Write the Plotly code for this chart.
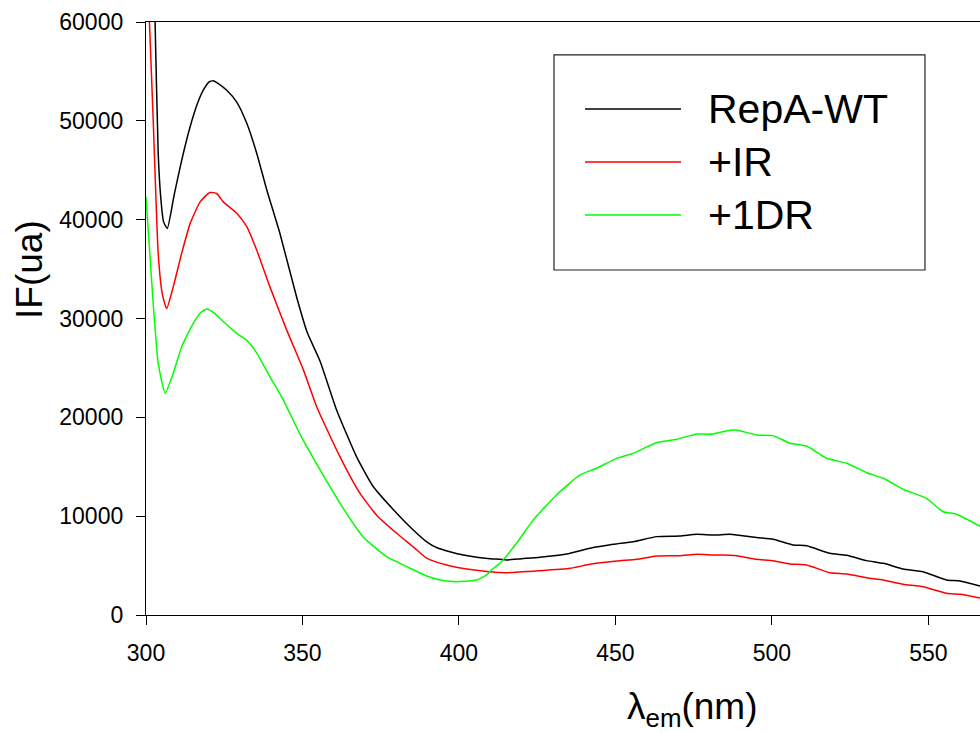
import plotly.graph_objects as go

# Emission spectra (fluorescence intensity, a.u.) versus emission wavelength (nm)
wt_nm = [300, 301, 302, 302.9, 303.9, 304.7, 305.6, 306.8, 309.0, 311.4, 314.1, 316.5, 318.3,
         320, 321.5, 323, 325.8, 329.0, 332.2, 335.4, 338.6, 342.8, 348.1, 351.5, 355.6,
         360.9, 367.3, 372.6, 380.1, 385.4, 389.7, 393, 397.1, 401, 405.7, 410, 413.1,
         415.2, 420, 425.9, 434.4, 441.9, 449.3, 455.7, 463.2, 470.6, 476.0, 481.3, 486.6,
         488.7, 495.1, 500.4, 506.8, 511.1, 518.5, 523.9, 530.3, 535.6, 541.9, 548.3,
         555.8, 560.1, 567]
wt_if = [98000, 85000, 72000, 60000, 46700, 42300, 39800, 39100, 42500, 46000, 49400, 51800, 53100,
         53900, 54050, 53800, 53100, 51900, 49750, 46700, 43000, 38600, 32200, 28600, 25700,
         20750, 16000, 13000, 10300, 8600, 7400, 6800, 6400, 6100, 5850, 5700, 5630,
         5570, 5700, 5840, 6170, 6750, 7150, 7420, 7930, 7990, 8160, 8100, 8160,
         8100, 7830, 7660, 7080, 7010, 6240, 6040, 5500, 5230, 4660, 4380,
         3540, 3440, 2900]

ir_nm = [300, 301.1, 302.3, 303.9, 305.2, 306.6, 308.7, 311.4, 314.1, 317.3, 320.4, 322.6,
         324.7, 329.0, 332.2, 335.4, 339.6, 345.0, 350.3, 354.5, 362.0, 368.4, 373.7, 380.1,
         385.4, 389.7, 396.1, 402.5, 408.9, 415.2, 425.9, 435.5, 441.9, 450.4, 456.8, 463.2,
         470.6, 476.0, 481, 486.6, 488.7, 495.1, 500.4, 505.8, 511.1, 518.5, 523.9, 530.3,
         535.6, 541.9, 548.3, 555.8, 560.1, 567]
ir_if = [69000, 60000, 50100, 36600, 32500, 31000, 33200, 36600, 39600, 41800, 42750, 42650,
         41800, 40650, 39300, 36900, 33200, 28800, 24800, 21100, 16000, 12300, 10100, 8270,
         6900, 5750, 5050, 4650, 4400, 4280, 4480, 4720, 5130, 5460, 5640, 5970,
         6000, 6140, 6080, 6040, 6000, 5640, 5500, 5160, 5060, 4280, 4150, 3770,
         3540, 3100, 2860, 2190, 2090, 1700]

dr_nm = [300, 302.3, 303.9, 306.1, 308.7, 311.4, 315.1, 317.5, 319.4, 322.0, 324.7, 329.0,
         332.2, 335.4, 339.6, 343.9, 349.2, 355.6, 362.0, 369.4, 376.9, 383.3, 389.7, 394,
         398.2, 402, 405.7, 408.9, 410.5, 413.1, 418.4, 423.7, 431.2, 438.7, 444.0, 450.4,
         455.7, 463.2, 469.6, 476.0, 480.2, 486.6, 488.7, 495.1, 500.4, 505.8, 511.1, 517.5,
         523.9, 530.3, 535.6, 541.9, 549.4, 554.7, 559.0, 567]
dr_if = [42300, 31500, 25500, 22450, 24450, 27150, 29500, 30600, 30950, 30500, 29700, 28500,
         27800, 26500, 24100, 21750, 18300, 14700, 11300, 7900, 5900, 4900, 3950, 3550,
         3380, 3420, 3550, 4050, 4600, 5230, 7260, 9600, 12150, 14170, 14850, 15850,
         16350, 17450, 17780, 18320, 18290, 18700, 18720, 18220, 18150, 17380, 17100, 15860,
         15350, 14400, 13830, 12720, 11800, 10450, 10200, 8900]

series_names = ["RepA-WT", "+IR", "+1DR"]
series_colors = ["#000000", "#ff0000", "#00ff00"]
series_x = [wt_nm, ir_nm, dr_nm]
series_y = [wt_if, ir_if, dr_if]

y_ticks = [0, 10000, 20000, 30000, 40000, 50000, 60000]
y_tick_text = ["0", "10000", "20000", "30000", "40000", "50000", "60000"]
x_ticks = [300, 350, 400, 450, 500, 550]

FONT = "Liberation Sans, Arial, sans-serif"

fig = go.Figure()
for xs, ys, name, color in zip(series_x, series_y, series_names, series_colors):
    fig.add_trace(go.Scatter(x=xs, y=ys, mode="lines", name=name,
                             line=dict(color=color, width=1.5, shape="spline", smoothing=0.5),
                             showlegend=False))

# Boxed legend drawn in paper coordinates
box = dict(x0=0.4892, x1=0.934, y0=0.5818, y1=0.9444)
fig.add_shape(type="rect", xref="paper", yref="paper", **box,
              line=dict(color="#222222", width=1.2), fillcolor="white", layer="above")
row_y = [0.8533, 0.7639, 0.6745]
annotations = []
for name, color, ry in zip(series_names, series_colors, row_y):
    fig.add_shape(type="line", xref="paper", yref="paper", x0=0.5264, x1=0.6415, y0=ry, y1=ry,
                  line=dict(color=color, width=1.5), layer="above")
    annotations.append(dict(xref="paper", yref="paper", x=0.6715, y=ry, text=name,
                            showarrow=False, xanchor="left", yanchor="middle",
                            font=dict(family=FONT, size=41, color="black")))

annotations.append(dict(xref="paper", yref="paper", x=-0.139, y=0.582, text="IF(ua)",
                        textangle=-90, showarrow=False, xanchor="center", yanchor="middle",
                        font=dict(family=FONT, size=37, color="black")))
annotations.append(dict(xref="paper", yref="paper", x=0.655, y=-0.158,
                        text="λ<sub>em</sub>(nm)", showarrow=False,
                        xanchor="center", yanchor="middle",
                        font=dict(family=FONT, size=37, color="black")))

fig.update_layout(
    width=980, height=733,
    margin=dict(l=146, r=0, t=22, b=118),
    paper_bgcolor="white", plot_bgcolor="white",
    font=dict(family=FONT, color="black"),
    annotations=annotations,
    xaxis=dict(range=[300, 566.5], tickvals=x_ticks, ticks="outside", ticklen=9,
               tickwidth=1.3, tickcolor="black", showline=True, linecolor="black",
               linewidth=1.3, mirror=True, showgrid=False, zeroline=False,
               tickfont=dict(family=FONT, size=23, color="black"), ticklabelstandoff=8),
    yaxis=dict(range=[0, 60000], tickvals=y_ticks, ticktext=y_tick_text, ticks="outside",
               ticklen=9, tickwidth=1.3, tickcolor="black", showline=True, linecolor="black",
               linewidth=1.3, showgrid=False, zeroline=False,
               tickfont=dict(family=FONT, size=23, color="black"), ticklabelstandoff=8),
)

fig.write_html("out.html")
